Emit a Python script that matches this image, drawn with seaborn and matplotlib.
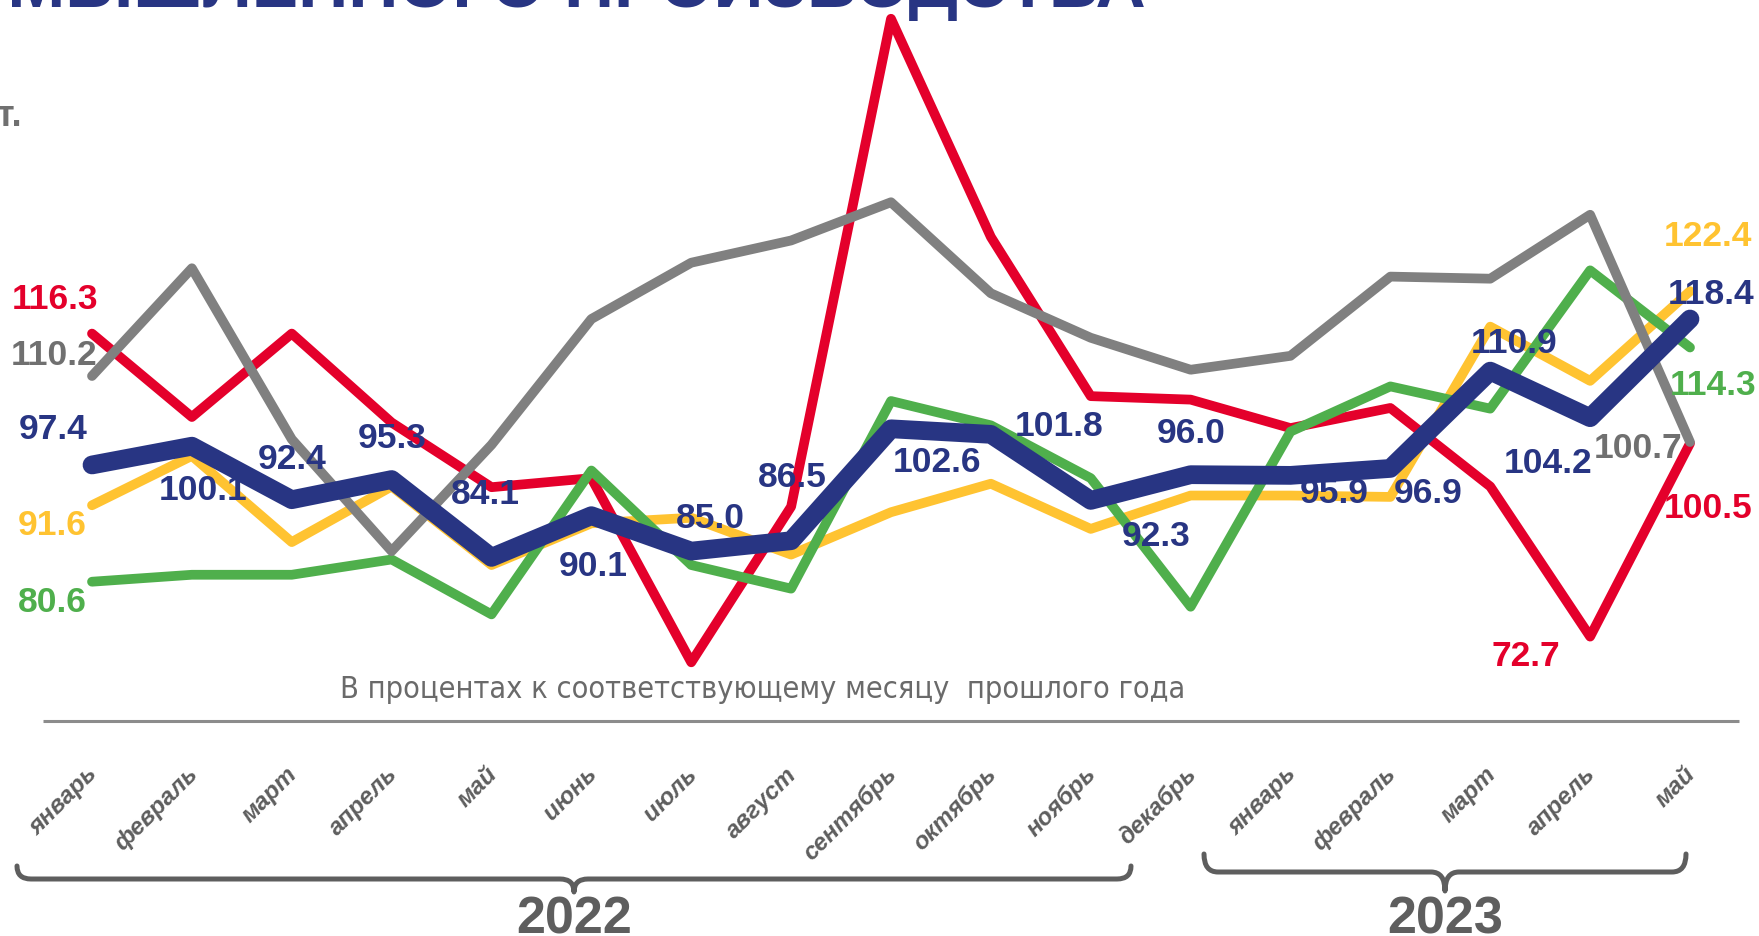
import numpy as np
import pandas as pd
import matplotlib
matplotlib.use("Agg")
import matplotlib.pyplot as plt
import seaborn as sns
from matplotlib.path import Path
from matplotlib.patches import PathPatch
from matplotlib import font_manager as fm

# ---------------- data ----------------
months = ["январь", "февраль", "март", "апрель", "май", "июнь", "июль", "август",
          "сентябрь", "октябрь", "ноябрь", "декабрь",
          "январь", "февраль", "март", "апрель", "май"]
years = ["2022", "2023"]

total = [97.4, 100.1, 92.4, 95.3, 84.1, 90.1, 85.0, 86.5, 102.6, 101.8, 92.3, 96.0,
         95.9, 96.9, 110.9, 104.2, 118.4]
red_series = [116.3, 104.3, 116.3, 103.5, 94.2, 95.5, 69.0, 91.4, 161.6, 130.2, 107.3, 106.8,
              102.7, 105.6, 94.3, 72.7, 100.5]
gray_series = [110.2, 125.7, 101.1, 85.0, 100.3, 118.4, 126.5, 129.7, 135.2, 122.1, 115.7, 111.1,
               113.1, 124.5, 124.2, 133.4, 100.7]
yellow_series = [91.6, 98.7, 86.3, 94.3, 83.0, 89.0, 89.8, 84.5, 90.6, 94.7, 88.2, 93.0,
                 93.0, 92.8, 117.3, 109.5, 122.4]
green_series = [80.6, 81.6, 81.6, 83.8, 75.9, 96.6, 83.0, 79.6, 106.6, 103.1, 95.5, 77.0,
                102.2, 108.7, 105.5, 125.4, 114.3]

note_text = "В процентах к соответствующему месяцу  прошлого года"
title_text = "ПРОМЫШЛЕННОГО ПРОИЗВОДСТВА"
unit_text = "т."

# ---------------- styles ----------------
C_RED = "#E4002B"
C_GRAY = "#808080"
C_YEL = "#FFC331"
C_GRN = "#4FAF4C"
C_NAVY = "#283583"
C_LBL_GRAY = "#707070"
C_AXIS = "#5E5E5E"

W, H, DPI = 1759, 936, 100
X0_PX, DX_PX = 92.0, 99.875
Y_REF_PX, V_REF, PPU = 319.0, 118.4, 6.95

BASE = "Liberation Sans"


def find_narrow(bold):
    cands = []
    for f in fm.fontManager.ttflist:
        nm = (f.name + " " + f.fname).lower()
        is_narrow = ("narrow" in nm) or ("condensed" in nm and "semicondensed" not in nm) \
            or f.stretch in ("condensed", 500 - 125)
        if not is_narrow:
            continue
        if "italic" in nm or "oblique" in nm or f.style != "normal":
            continue
        w = f.weight if isinstance(f.weight, int) else (700 if "bold" in str(f.weight) else 400)
        if bold != (w >= 600 or "bold" in f.fname.lower()):
            continue
        pri = 0 if "liberation" in nm else (1 if "dejavu" in nm else 2)
        cands.append((pri, f.fname))
    if cands:
        cands.sort()
        return fm.FontProperties(fname=cands[0][1]), True
    return fm.FontProperties(family=BASE, weight="bold" if bold else "normal"), False


NARROW_REG, HAS_NR = find_narrow(False)

sns.set_theme(style="white")
plt.rcParams["font.family"] = [BASE, "DejaVu Sans"]

fig = plt.figure(figsize=(W / DPI, H / DPI), dpi=DPI)
fig.patch.set_facecolor("white")
ax = fig.add_axes([0, 0, 1, 1])
ax.set_xlim(-X0_PX / DX_PX, (W - X0_PX) / DX_PX)
ax.set_ylim(V_REF - (H - Y_REF_PX) / PPU, V_REF + Y_REF_PX / PPU)
ax.axis("off")

ov = fig.add_axes([0, 0, 1, 1], zorder=5)
ov.set_xlim(0, W)
ov.set_ylim(H, 0)
ov.axis("off")
ov.patch.set_alpha(0)

idx = np.arange(len(months))
series = [
    ("red", red_series, C_RED, 7.0, 2),
    ("yellow", yellow_series, C_YEL, 7.0, 3),
    ("green", green_series, C_GRN, 7.0, 4),
    ("gray", gray_series, C_GRAY, 7.0, 5),
    ("navy", total, C_NAVY, 13.5, 6),
]
for name, vals, col, lw, z in series:
    df = pd.DataFrame({"i": idx, "v": vals})
    sns.lineplot(data=df, x="i", y="v", ax=ax, color=col, linewidth=lw, sort=False,
                 zorder=z, solid_capstyle="round", solid_joinstyle="round", legend=False)
ax.axis("off")


# ---------------- value labels ----------------
def label(i, v, text, color, dx, dy):
    ax.annotate(text, xy=(i, v), xytext=(dx * 72 / DPI, -dy * 72 / DPI),
                textcoords="offset points", ha="center", va="center",
                fontsize=25.5, fontweight="bold", color=color, zorder=10,
                family=[BASE, "DejaVu Sans"])


navy_offsets = [(-39, -35), (11, 44), (0, -40), (1, -41), (-6, -63), (2, 51), (19, -33),
                (1, -63), (46, 34), (68, -8), (65, 36), (1, -41), (44, 18), (38, 25),
                (24, -28), (-42, 46), (21, -24)]
for i, (v, (dx, dy)) in enumerate(zip(total, navy_offsets)):
    label(i, v, f"{v:.1f}", C_NAVY, dx, dy)

first, last = 0, len(months) - 1
label(first, red_series[first], f"{red_series[first]:.1f}", C_RED, -37, -34)
label(first, gray_series[first], f"{gray_series[first]:.1f}", C_LBL_GRAY, -38, -20)
label(first, yellow_series[first], f"{yellow_series[first]:.1f}", C_YEL, -40, 20)
label(first, green_series[first], f"{green_series[first]:.1f}", C_GRN, -40, 21)
label(last, yellow_series[last], f"{yellow_series[last]:.1f}", C_YEL, 18, -55)
label(last, green_series[last], f"{green_series[last]:.1f}", C_GRN, 23, 38)
label(last, gray_series[last], f"{gray_series[last]:.1f}", C_LBL_GRAY, -52, 6)
label(last, red_series[last], f"{red_series[last]:.1f}", C_RED, 18, 65)
label(15, red_series[15], f"{red_series[15]:.1f}", C_RED, -64, 20)

# ---------------- title fragment / unit ----------------
ov.text(1146, 7, title_text, ha="right", va="baseline", fontsize=50, fontweight="bold",
        color=C_NAVY, family=[BASE, "DejaVu Sans"])
ov.text(22, 117, unit_text, ha="right", va="center", fontsize=26, fontweight="bold",
        color=C_LBL_GRAY, family=[BASE, "DejaVu Sans"])

# ---------------- note + rule ----------------
note_fp = NARROW_REG.copy()
note_fp.set_size(22 if HAS_NR else 23)
ov.text(763, 690, note_text, ha="center", va="center", fontproperties=note_fp, color="#6A6A6A")
ov.plot([43, 1739], [721, 721], color="#8C8C8C", lw=2.2, solid_capstyle="butt")

# ---------------- month labels ----------------
for i, m in enumerate(months):
    xp = X0_PX + DX_PX * i
    ov.text(xp + 2, 771, m, rotation=45, rotation_mode="anchor", ha="right", va="center",
            fontsize=17.5, fontweight="bold", fontstyle="italic", color=C_AXIS,
            family=[BASE, "DejaVu Sans"])


# ---------------- braces + years ----------------
def brace(x0, x1, ybar, yend, ytip, r=14, rm=14):
    xm = (x0 + x1) / 2
    verts = [(x0, yend), (x0, ybar), (x0 + r, ybar),
             (xm - rm, ybar),
             (xm, ybar), (xm, ytip),
             (xm, ybar), (xm + rm, ybar),
             (x1 - r, ybar),
             (x1, ybar), (x1, yend)]
    codes = [Path.MOVETO, Path.CURVE3, Path.CURVE3,
             Path.LINETO,
             Path.CURVE3, Path.CURVE3,
             Path.CURVE3, Path.CURVE3,
             Path.LINETO,
             Path.CURVE3, Path.CURVE3]
    ov.add_patch(PathPatch(Path(verts, codes), fill=False, edgecolor=C_AXIS, lw=3.6,
                           capstyle="round", joinstyle="round"))
    return xm


brace_geo = [(17, 1131, 879, 866, 892), (1204, 1686, 872, 854, 891)]
for yr, (x0, x1, yb, ye, yt) in zip(years, brace_geo):
    xm = brace(x0, x1, yb, ye, yt)
    ov.text(xm, 934, yr, ha="center", va="baseline", fontsize=37.5, fontweight="bold",
            color=C_AXIS, family=[BASE, "DejaVu Sans"])

fig.savefig("out.png", dpi=DPI, facecolor="white")
